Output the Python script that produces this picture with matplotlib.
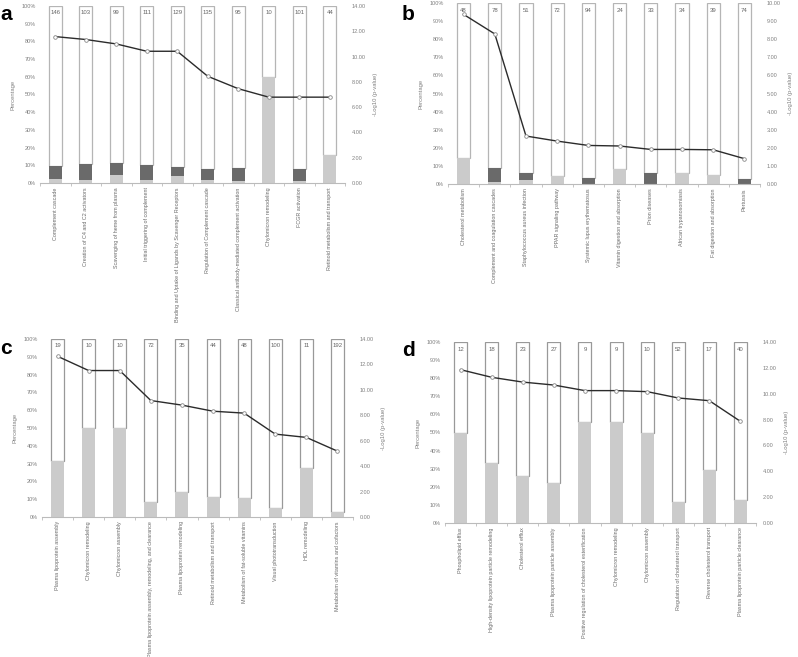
import matplotlib.pyplot as plt
import numpy as np

plt.rcParams['font.family'] = ['Liberation Sans', 'DejaVu Sans']

# panel a
a_names = ["Complement cascade", "Creation of C4 and C2 activators", "Scavenging of heme from plasma",
           "Initial triggering of complement", "Binding and Uptake of Ligands by Scavenger Receptors",
           "Regulation of Complement cascade", "Classical antibody-mediated complement activation",
           "Chylomicron remodeling", "FCGR activation", "Retinoid metabolism and transport"]
a_counts = [146, 103, 99, 111, 129, 135, 95, 10, 101, 44]
a_light = [2.0, 1.9, 4.8, 1.7, 3.7, 1.5, 1.0, 60.0, 1.0, 16.0]
a_dark = [7.7, 8.8, 6.3, 8.3, 5.6, 6.5, 7.4, 0.0, 6.9, 0.0]
a_logp = [11.58, 11.35, 11.0, 10.42, 10.42, 8.44, 7.46, 6.79, 6.79, 6.79]

# panel b
b_names = ["Cholesterol metabolism", "Complement and coagulation cascades", "Staphylococcus aureus infection",
           "PPAR signaling pathway", "Systemic lupus erythematosus", "Vitamin digestion and absorption",
           "Prion diseases", "African trypanosomiasis", "Fat digestion and absorption", "Pertussis"]
b_counts = [48, 78, 51, 72, 94, 24, 33, 34, 39, 74]
b_light = [14.6, 1.3, 2.0, 4.2, 0.0, 8.3, 0.0, 5.9, 5.1, 0.0]
b_dark = [0.0, 7.7, 3.9, 0.0, 3.2, 0.0, 6.1, 0.0, 0.0, 2.7]
b_logp = [9.37, 8.29, 2.65, 2.37, 2.13, 2.10, 1.91, 1.91, 1.89, 1.40]

# panel c
c_names = ["Plasma lipoprotein assembly", "Chylomicron remodeling", "Chylomicron assembly",
           "Plasma lipoprotein assembly, remodeling, and clearance", "Plasma lipoprotein remodeling",
           "Retinoid metabolism and transport", "Metabolism of fat-soluble vitamins",
           "Visual phototransduction", "HDL remodeling", "Metabolism of vitamins and cofactors"]
c_counts = [19, 10, 10, 72, 35, 44, 48, 100, 11, 192]
c_light = [31.5, 50.0, 50.0, 8.3, 14.3, 11.3, 10.4, 5.0, 27.3, 2.6]
c_dark = [0.0] * 10
c_logp = [12.64, 11.52, 11.52, 9.16, 8.80, 8.32, 8.17, 6.52, 6.26, 5.18]

# panel d
d_names = ["Phospholipid efflux", "High-density lipoprotein particle remodeling", "Cholesterol efflux",
           "Plasma lipoprotein particle assembly", "Positive regulation of cholesterol esterification",
           "Chylomicron remodeling", "Chylomicron assembly", "Regulation of cholesterol transport",
           "Reverse cholesterol transport", "Plasma lipoprotein particle clearance"]
d_counts = [12, 18, 23, 27, 9, 9, 10, 52, 17, 40]
d_light = [50.0, 33.3, 26.1, 22.2, 55.6, 55.6, 50.0, 11.5, 29.4, 12.5]
d_dark = [0.0] * 10
d_logp = [11.86, 11.27, 10.90, 10.67, 10.24, 10.24, 10.16, 9.67, 9.46, 7.86]

LIGHT = "#cbcbcb"
DARK = "#6a6a6a"
TXT = "#808080"

fig = plt.figure(figsize=(7.98, 6.57), dpi=100)

def panel(rect, letter, lpos, names, counts, light, dark, logp, ymax2, edge):
    ax = fig.add_axes(rect)
    x = np.arange(len(names))
    light = np.array(light)
    dark = np.array(dark)
    w = 0.42
    ax.bar(x, light, w, color=LIGHT, zorder=2)
    ax.bar(x, dark, w, bottom=light, color=DARK, zorder=2)
    ax.bar(x, 100 - light - dark, w, bottom=light + dark, color="white",
           edgecolor=edge, linewidth=0.9, zorder=1)
    for xi, n in zip(x, counts):
        ax.text(xi, 97.5, str(n), ha="center", va="top", fontsize=4.3, color="#666666", zorder=3)
    ax.set_xlim(-0.5, len(names) - 0.5)
    ax.set_ylim(0, 100)
    ax.set_yticks(range(0, 101, 10))
    ax.set_yticklabels([f"{v}%" for v in range(0, 101, 10)])
    ax.set_xticks(x)
    ax.set_xticklabels(names, rotation=90, fontsize=3.9, color="#6a6a6a")
    ax.set_xticks(np.arange(-0.5, len(names), 1), minor=True)
    ax.tick_params(axis="x", which="major", length=0, pad=3)
    ax.tick_params(axis="x", which="minor", length=2.5, color="#bbbbbb")
    ax.tick_params(axis="y", length=0, labelsize=4.0, labelcolor=TXT, pad=3)
    for s in ["top", "right", "left"]:
        ax.spines[s].set_visible(False)
    ax.spines["bottom"].set_color("#bbbbbb")
    ax.spines["bottom"].set_linewidth(0.8)
    ax.set_ylabel("Percentage", fontsize=4.2, color=TXT, labelpad=4)

    ax2 = ax.twinx()
    ax2.plot(x, logp, color="#2b2b2b", linewidth=1.0, marker="o", markersize=2.6,
             markerfacecolor="white", markeredgecolor="#888888", markeredgewidth=0.6, zorder=4)
    ax2.set_ylim(0, ymax2)
    step = 2 if ymax2 > 10 else 1
    ticks = np.arange(0, ymax2 + 0.01, step)
    ax2.set_yticks(ticks)
    ax2.set_yticklabels([f"{t:.2f}" for t in ticks])
    ax2.tick_params(axis="y", length=0, labelsize=4.0, labelcolor=TXT, pad=5)
    for s in ["top", "right", "left", "bottom"]:
        ax2.spines[s].set_visible(False)
    ax2.set_ylabel("-Log10 (p-value)", fontsize=4.2, color=TXT, labelpad=5)

    fig.text(lpos[0], lpos[1], letter, fontsize=15, fontweight="bold", ha="left", va="center")

panel([40 / 798, 1 - 183 / 657, 305 / 798, 177 / 657], "a", (0.0, 1 - 14 / 657),
      a_names, a_counts, a_light, a_dark, a_logp, 14, "#b5b5b5")
panel([448 / 798, 1 - 184 / 657, 312 / 798, 181 / 657], "b", (402 / 798, 1 - 14 / 657),
      b_names, b_counts, b_light, b_dark, b_logp, 10, "#b5b5b5")
panel([42 / 798, 1 - 517 / 657, 311 / 798, 178 / 657], "c", (0.0, 1 - 348 / 657),
      c_names, c_counts, c_light, c_dark, c_logp, 14, "#999999")
panel([445 / 798, 1 - 523 / 657, 311 / 798, 181 / 657], "d", (402 / 798, 1 - 350 / 657),
      d_names, d_counts, d_light, d_dark, d_logp, 14, "#999999")

fig.savefig("out.png", dpi=100)
